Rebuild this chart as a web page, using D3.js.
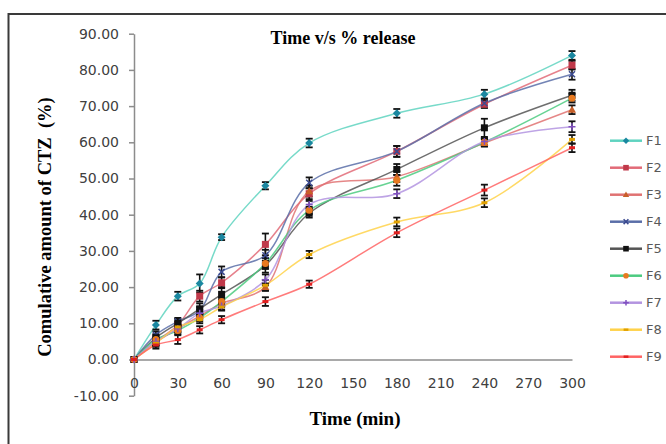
<!DOCTYPE html>
<html><head><meta charset="utf-8">
<script src="https://cdn.jsdelivr.net/npm/d3@7"></script>
<style>body{margin:0;background:#fff}svg{display:block}</style>
</head><body>
<svg id="c" width="666" height="444"></svg>
<script>
const times = [0, 15, 30, 45, 60, 90, 120, 180, 240, 300];
const seriesNames = ["F1","F2","F3","F4","F5","F6","F7","F8","F9"];
const F1 = [0, 9.5, 17.5, 21.0, 33.8, 48.0, 59.8, 68.0, 73.3, 84.0];
const F2 = [0, 5.0, 9.5, 17.5, 21.2, 31.8, 45.8, 57.5, 70.5, 81.3];
const F3 = [0, 4.8, 8.5, 12.0, 15.5, 20.0, 46.5, 50.5, 59.8, 69.0];
const F4 = [0, 6.8, 10.5, 13.5, 24.2, 28.8, 48.8, 57.5, 70.8, 78.8];
const F5 = [0, 6.0, 10.0, 14.0, 18.0, 26.0, 40.4, 52.5, 64.0, 73.0];
const F6 = [0, 5.5, 8.0, 11.5, 16.0, 26.5, 41.2, 49.5, 60.0, 72.2];
const F7 = [0, 5.0, 8.5, 12.8, 14.8, 22.0, 42.8, 45.8, 60.2, 64.3];
const F8 = [0, 4.5, 9.0, 11.0, 14.5, 20.5, 29.0, 38.0, 43.3, 60.8];
const F9 = [0, 4.0, 5.5, 8.2, 11.0, 16.0, 20.8, 35.0, 46.8, 58.5];
const E1 = [0, 1.2, 1.2, 2.5, 0.8, 1.0, 1.2, 1.2, 1.2, 1.2];
const E2 = [0, 1.0, 1.0, 1.5, 1.5, 3.0, 1.5, 1.5, 1.0, 1.2];
const E3 = [0, 1.0, 1.0, 1.0, 1.0, 1.0, 1.5, 1.5, 1.0, 1.2];
const E4 = [0, 1.0, 1.0, 1.0, 1.5, 1.5, 1.5, 1.5, 1.2, 1.5];
const E5 = [0, 1.0, 1.2, 1.5, 2.0, 2.0, 1.2, 1.5, 2.5, 1.5];
const E6 = [0, 1.0, 1.0, 1.0, 1.0, 1.5, 1.0, 1.5, 1.0, 1.2];
const E7 = [0, 1.0, 1.0, 1.0, 1.0, 1.5, 1.0, 1.2, 1.0, 1.5];
const E8 = [0, 1.0, 1.0, 1.0, 1.0, 1.5, 1.0, 1.2, 1.2, 1.2];
const E9 = [0, 1.0, 1.2, 1.0, 1.0, 1.2, 1.0, 1.2, 1.5, 1.2];
const xTicks = [0,30,60,90,120,150,180,210,240,270,300];
const yTicks = [-10,0,10,20,30,40,50,60,70,80,90];
const lineColors = ["#5fd3c0","#e26b78","#e07272","#5a6ea8","#555555","#4ccb80","#b394e0","#ffd24a","#ff6464"];
const markerColors = ["#1a87a0","#c0394a","#c8602a","#3b4a90","#111111","#e87a20","#8050c0","#e0a000","#e02020"];
const markerShapes = ["diamond","square","triangle","x","square","circle","plus","dash","dash"];

const values = [F1,F2,F3,F4,F5,F6,F7,F8,F9];
const errors = [E1,E2,E3,E4,E5,E6,E7,E8,E9];
const series = seriesNames.map((n,i)=>({name:n, color:lineColors[i], mcolor:markerColors[i], shape:markerShapes[i],
  pts: times.map((t,j)=>({t, v:values[i][j], e:errors[i][j]}))}));

const svg = d3.select("#c");
const x = d3.scaleLinear().domain([0,300]).range([134,572]);
const y = d3.scaleLinear().domain([-10,90]).range([395.7,33.7]);

// outer border
svg.append("rect").attr("x",8.5).attr("y",14).attr("width",720).attr("height",520)
  .attr("fill","none").attr("stroke","#3a3a3a").attr("stroke-width",2);

// title
svg.append("text").attr("x",343).attr("y",44).attr("text-anchor","middle")
  .attr("font-family","Liberation Serif").attr("font-weight","bold").attr("font-size",18)
  .attr("fill","#000").text("Time v/s % release");

// y axis
const yAxis = d3.axisLeft(y).tickValues(yTicks).tickFormat(d=>d.toFixed(2)).tickSize(5).tickSizeOuter(0).tickPadding(10);
const gy = svg.append("g").attr("transform",`translate(${x(0)},0)`).call(yAxis);
gy.select(".domain").attr("stroke","#8c8c8c").attr("stroke-width",1.5);
gy.selectAll(".tick line").attr("stroke","#8c8c8c").attr("stroke-width",1.5);
gy.selectAll(".tick text").attr("font-family","DejaVu Sans").attr("font-size",14).attr("fill","#404040");

// x axis at y=0
const xAxis = d3.axisBottom(x).tickValues(xTicks).tickSize(0).tickSizeOuter(0).tickPadding(19);
const gx = svg.append("g").attr("transform",`translate(0,${y(0)})`).call(xAxis);
gx.select(".domain").attr("stroke","#8c8c8c").attr("stroke-width",1.5);
gx.selectAll(".tick text").attr("font-family","DejaVu Sans").attr("font-size",14).attr("fill","#404040");

// axis titles
svg.append("text").attr("x",355).attr("y",425).attr("text-anchor","middle")
  .attr("font-family","Liberation Serif").attr("font-weight","bold").attr("font-size",19)
  .attr("fill","#000").text("Time (min)");
svg.append("text").attr("transform","translate(51,227) rotate(-90)").attr("text-anchor","middle")
  .attr("font-family","Liberation Serif").attr("font-weight","bold").attr("font-size",18.5)
  .attr("fill","#000").attr("xml:space","preserve").text("Comulative amount of CTZ  (%)");

// lines
const line = d3.line().x(d=>x(d.t)).y(d=>y(d.v)).curve(d3.curveCatmullRom.alpha(0.5));
const gl = svg.append("g");
series.forEach(s=>{
  gl.append("path").attr("d",line(s.pts)).attr("fill","none").attr("stroke",s.color)
    .attr("stroke-width",1.5).attr("stroke-opacity",0.85);
});

function drawMarker(g, shape, cx, cy, color, scale){
  const k = scale||1;
  if(shape==="diamond") g.append("path").attr("d",`M${cx},${cy-4*k}L${cx+4*k},${cy}L${cx},${cy+4*k}L${cx-4*k},${cy}Z`).attr("fill",color);
  else if(shape==="square") g.append("rect").attr("x",cx-3.5*k).attr("y",cy-3.5*k).attr("width",7*k).attr("height",7*k).attr("fill",color);
  else if(shape==="triangle") g.append("path").attr("d",`M${cx},${cy-4*k}L${cx+4*k},${cy+3*k}L${cx-4*k},${cy+3*k}Z`).attr("fill",color);
  else if(shape==="x") g.append("path").attr("d",`M${cx-3*k},${cy-3*k}L${cx+3*k},${cy+3*k}M${cx+3*k},${cy-3*k}L${cx-3*k},${cy+3*k}`).attr("stroke",color).attr("stroke-width",1.5);
  else if(shape==="circle") g.append("circle").attr("cx",cx).attr("cy",cy).attr("r",3.5*k).attr("fill",color);
  else if(shape==="plus") g.append("path").attr("d",`M${cx-3.5*k},${cy}L${cx+3.5*k},${cy}M${cx},${cy-3.5*k}L${cx},${cy+3.5*k}`).attr("stroke",color).attr("stroke-width",1.5);
  else if(shape==="dash") g.append("rect").attr("x",cx-3*k).attr("y",cy-1.5*k).attr("width",6*k).attr("height",3*k).attr("fill",color);
}

// error bars and markers
const ge = svg.append("g");
series.forEach(s=>{
  s.pts.forEach(p=>{
    if(p.e>0){
      const cx=x(p.t), y1=y(p.v+p.e), y2=y(p.v-p.e);
      ge.append("line").attr("x1",cx).attr("x2",cx).attr("y1",y1).attr("y2",y2).attr("stroke","#111").attr("stroke-width",1.6);
      ge.append("line").attr("x1",cx-3.5).attr("x2",cx+3.5).attr("y1",y1).attr("y2",y1).attr("stroke","#111").attr("stroke-width",1.8);
      ge.append("line").attr("x1",cx-3.5).attr("x2",cx+3.5).attr("y1",y2).attr("y2",y2).attr("stroke","#111").attr("stroke-width",1.8);
    }
  });
});
const gm = svg.append("g");
series.forEach(s=>{
  s.pts.forEach(p=>drawMarker(gm, s.shape, x(p.t), y(p.v), s.mcolor, 1));
});

// legend
const legY = d3.scalePoint().domain(seriesNames).range([140.7,356.7]);
const gLeg = svg.append("g");
series.forEach(s=>{
  const yy = legY(s.name);
  gLeg.append("line").attr("x1",610).attr("x2",642).attr("y1",yy).attr("y2",yy).attr("stroke",s.color).attr("stroke-width",2.5);
  drawMarker(gLeg, s.shape, 626, yy, s.mcolor, 0.8);
  gLeg.append("text").attr("x",646).attr("y",yy).attr("dy","0.35em")
    .attr("font-family","DejaVu Sans").attr("font-size",13).attr("fill","#595959").text(s.name);
});
</script>
</body></html>
